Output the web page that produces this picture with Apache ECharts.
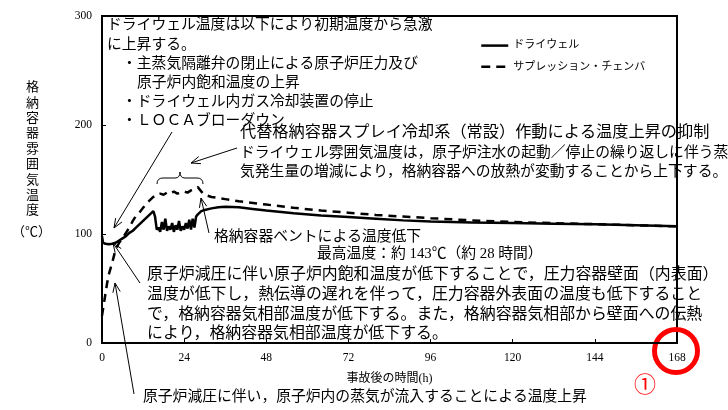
<!DOCTYPE html>
<html><head><meta charset="utf-8">
<script src="https://cdn.jsdelivr.net/npm/echarts@6/dist/echarts.min.js"></script>
<style>html,body{margin:0;padding:0;background:#fff}#c{width:728px;height:410px}</style>
</head><body><div id="c"></div>
<script>
const seriesNames = ['ドライウェル', 'サプレッション・チェンバ'];
const xTicks = [0, 24, 48, 72, 96, 120, 144, 168];
const yTicks = [0, 100, 200, 300];
// Drywell (solid)
const dwTime = [0,0.3,1,2,3,4,5,6,7,8,9,10,11,12,13,14,15,15.5,
  16,16.5,17,17.5,18,18.5,19,19.5,20,20.5,21,21.5,22,22.5,23,23.5,24,24.5,25,25.5,26,26.5,27,
  27.5,28,29,30,32,34,36,40,44,48,56,64,72,80,88,96,108,120,132,144,156,168];
const dwTemp = [98,92,91,90.5,91,92,94,96,98,101,103,106,109,112,115,118,121,116,
  104,106,102,111,104,114,103,107,104,110,102,108,104,112,103,107,104,110,105,113,104,114,106,
  116,118,121,122,123.5,124.5,125,124.5,123,121.5,119,117,115.5,114,112.5,111.5,110.5,110,109.5,109,108,107];
// Suppression chamber (dashed)
const scTime = [0,0.5,1,1.5,2,3,4,5,6,7,8,9,10,11,12,13,14,15,16,
  17,18,19,20,21,22,23,24,25,26,27,28,29,30,32,36,40,48,56,64,72,80,88,96,108,120,132,144,156,168];
const scTemp = [25,35,45,55,63,74,86,92,96,101,106,112,117,120,124,128,131,134,136.5,
  137,136,138,137,139,137,138,139,138,140,141,143,139,136,134,132,130,127,124,121.5,119.5,117.5,116,114.5,112.5,111,110,109,108,107];

const zip = (a, b) => a.map((v, i) => [v, b[i]]);
const FF = "'Liberation Serif','Noto Sans CJK JP',serif";

function txt(x, y, s, fs) {
  return { type: 'text', x: x, y: y, silent: true,
    style: { text: s, fill: '#000', fontSize: fs || 14.8, fontFamily: FF, verticalAlign: 'middle' } };
}
function arrow(x1, y1, x2, y2) {
  const a = Math.atan2(y2 - y1, x2 - x1), L = 10, w = 0.38;
  const p1 = [x2 - L * Math.cos(a - w), y2 - L * Math.sin(a - w)];
  const p2 = [x2 - L * Math.cos(a + w), y2 - L * Math.sin(a + w)];
  return [
    { type: 'line', silent: true, shape: { x1: x1, y1: y1, x2: x2, y2: y2 }, style: { stroke: '#000', lineWidth: 1 } },
    { type: 'polyline', silent: true, shape: { points: [p1, [x2, y2], p2] }, style: { stroke: '#000', lineWidth: 1, fill: null } }
  ];
}
function qc(x1, y1, cx, cy, x2, y2) {
  return { type: 'bezierCurve', silent: true, shape: { x1: x1, y1: y1, x2: x2, y2: y2, cpx1: cx, cpy1: cy },
    style: { stroke: '#000', lineWidth: 1, fill: null } };
}
function ln(x1, y1, x2, y2) {
  return { type: 'line', silent: true, shape: { x1: x1, y1: y1, x2: x2, y2: y2 }, style: { stroke: '#000', lineWidth: 1 } };
}

const graphics = [
  { type: 'text', x: 26, y: 80, silent: true,
    style: { text: '格\n納\n容\n器\n雰\n囲\n気\n温\n度', fill: '#000', fontSize: 13, fontFamily: FF, lineHeight: 15.4, verticalAlign: 'top' } },
  txt(12, 233, '（℃）', 13),
  txt(107, 25, 'ドライウェル温度は以下により初期温度から急激'),
  txt(107, 45, 'に上昇する。'),
  txt(122, 64, '・主蒸気隔離弁の閉止による原子炉圧力及び'),
  txt(137, 83, '原子炉内飽和温度の上昇'),
  txt(122, 102, '・ドライウェル内ガス冷却装置の停止'),
  txt(122, 121, '・ＬＯＣＡブローダウン'),
  txt(240, 133, '代替格納容器スプレイ冷却系（常設）作動による温度上昇の抑制', 16.2),
  txt(240, 153, 'ドライウェル雰囲気温度は，原子炉注水の起動／停止の繰り返しに伴う蒸'),
  txt(240, 172, '気発生量の増減により，格納容器への放熱が変動することから上下する。'),
  txt(214, 237, '格納容器ベントによる温度低下'),
  txt(317, 254, '最高温度：約 143℃（約 28 時間）'),
  txt(147, 275, '原子炉減圧に伴い原子炉内飽和温度が低下することで，圧力容器壁面（内表面）', 15.9),
  txt(147, 295, '温度が低下し，熱伝導の遅れを伴って，圧力容器外表面の温度も低下すること', 15.9),
  txt(147, 315, 'で，格納容器気相部温度が低下する。また，格納容器気相部から壁面への伝熱', 15.9),
  txt(147, 334, 'により，格納容器気相部温度が低下する。', 15.9),
  txt(143, 397, '原子炉減圧に伴い，原子炉内の蒸気が流入することによる温度上昇'),
  qc(157, 184, 157, 178, 163, 178), ln(163, 178, 175, 178), qc(175, 178, 180, 178, 180, 172),
  qc(180, 172, 180, 178, 185, 178), ln(185, 178, 197, 178), qc(197, 178, 203, 178, 203, 184),
  { type: 'circle', silent: true, shape: { cx: 676, cy: 351, r: 21.5 }, style: { stroke: '#ff0000', lineWidth: 5, fill: null } },
  { type: 'text', silent: true, x: 645, y: 386, style: { text: '①', fill: '#ff0000', fontSize: 22, fontFamily: FF, align: 'center', verticalAlign: 'middle' } }
].concat(arrow(172, 132, 114, 228), arrow(237, 148, 191, 163), arrow(209, 233, 201, 198),
         arrow(140, 283, 113, 243), arrow(134, 394, 115, 283));

const chart = echarts.init(document.getElementById('c'), null, { renderer: 'canvas' });
chart.setOption({
  animation: false,
  backgroundColor: '#fff',
  grid: { left: 102, right: 51, top: 16, bottom: 67, show: true, borderColor: '#000', borderWidth: 2 },
  legend: {
    orient: 'vertical', left: 475, top: 35, itemWidth: 27, itemHeight: 14, itemGap: 10,
    itemStyle: { opacity: 0 },
    data: [
      { name: seriesNames[0], itemStyle: { opacity: 0 }, lineStyle: { width: 2.5, color: '#000', type: 'solid' } },
      { name: seriesNames[1], itemStyle: { opacity: 0 }, lineStyle: { width: 2.5, color: '#000', type: [9, 6] } }
    ],
    textStyle: { fontSize: 11, fontFamily: FF, color: '#000' }
  },
  xAxis: {
    type: 'value', min: xTicks[0], max: xTicks[xTicks.length - 1], interval: 24,
    name: '事故後の時間(h)', nameLocation: 'middle', nameGap: 30,
    nameTextStyle: { fontSize: 12, fontFamily: FF, color: '#000' },
    axisLine: { lineStyle: { color: '#000', width: 2 } },
    axisTick: { inside: true, length: 4, lineStyle: { color: '#000' } },
    axisLabel: { fontSize: 11.5, fontFamily: FF, color: '#000', margin: 9 },
    splitLine: { show: false }
  },
  yAxis: {
    type: 'value', min: yTicks[0], max: yTicks[yTicks.length - 1], interval: 100,
    axisLine: { show: true, lineStyle: { color: '#000', width: 2 } },
    axisTick: { show: true, inside: true, length: 4, lineStyle: { color: '#000' } },
    axisLabel: { fontSize: 11.5, fontFamily: FF, color: '#000', margin: 10 },
    splitLine: { show: false }
  },
  series: [
    { name: seriesNames[0], type: 'line', data: zip(dwTime, dwTemp), symbol: 'none',
      lineStyle: { color: '#000', width: 2.5 }, itemStyle: { color: '#000' } },
    { name: seriesNames[1], type: 'line', data: zip(scTime, scTemp), symbol: 'none',
      lineStyle: { color: '#000', width: 2.5, type: [8, 6] }, itemStyle: { color: '#000' } }
  ],
  graphic: graphics
});
</script>
</body></html>
